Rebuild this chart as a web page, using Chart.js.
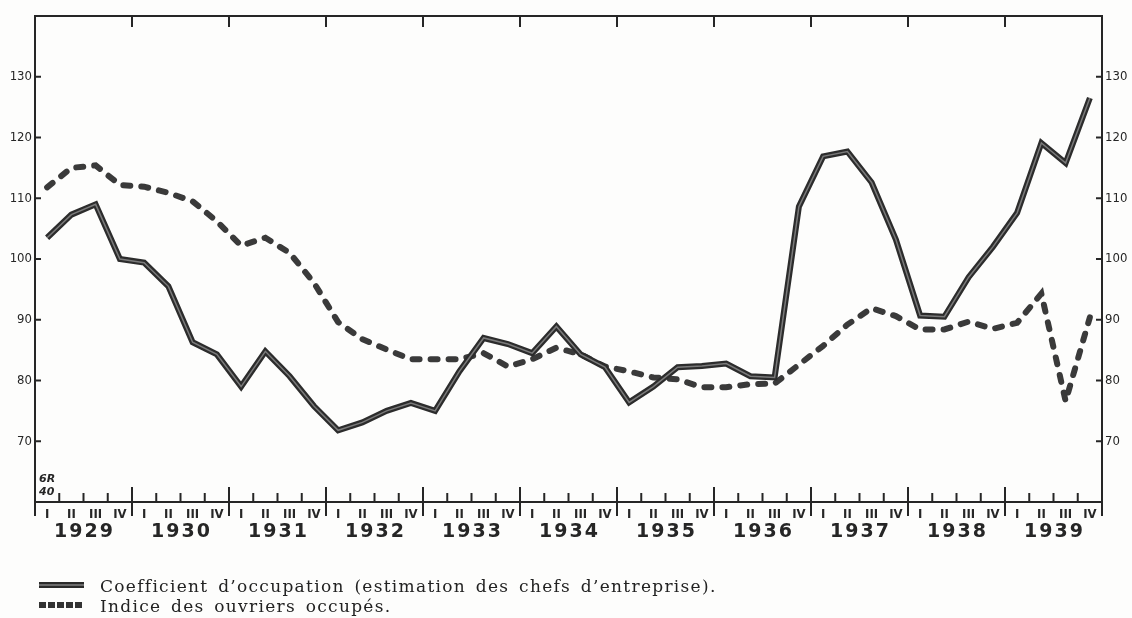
<!DOCTYPE html>
<html>
<head>
<meta charset="utf-8">
<script src="https://cdn.jsdelivr.net/npm/chart.js@4.4.1/dist/chart.umd.min.js"></script>
<style>
  html, body { margin: 0; padding: 0; background: #fff; }
  #wrap { position: relative; width: 1132px; height: 618px; background: #fdfdfc; }
  #chart { position: absolute; left: 0; top: 0; }
  .legend { position: absolute; left: 39px; font-family: "DejaVu Serif", serif; font-size: 17px; letter-spacing: 1.3px; word-spacing: 3px; color: #222; white-space: nowrap; }
  .legend .sw { display: inline-block; width: 45px; height: 6px; margin-right: 16px; vertical-align: 4px; }
  .sw.solid { background-image: linear-gradient(#2a2a2a 0 30%, #6a6a6a 30% 70%, #2a2a2a 70%); }
  .sw.dash { background: repeating-linear-gradient(90deg, #333 0 7px, transparent 7px 9px); }
</style>
</head>
<body>
<div id="wrap">
  <canvas id="chart" width="1132" height="618"></canvas>
  <div class="legend" style="top:576px"><span class="sw solid"></span>Coefficient d’occupation (estimation des chefs d’entreprise).</div>
  <div class="legend" style="top:596px"><span class="sw dash"></span>Indice des ouvriers occupés.</div>
</div>
<script>
const years = ['1929', '1930', '1931', '1932', '1933', '1934', '1935', '1936', '1937', '1938', '1939'];
const quarters = ['I', 'II', 'III', 'IV'];
const yTicks = [70, 80, 90, 100, 110, 120, 130];

// Coefficient d'occupation (estimation des chefs d'entreprise), one value per quarter
const coefficient = [
  103.5, 107.3, 109.0, 100.0,
  99.4, 95.5, 86.3, 84.3,
  79.0, 84.8, 80.7, 75.8,
  71.8, 73.1, 75.0, 76.3,
  75.0, 81.5, 87.0, 86.0,
  84.5, 88.9, 84.3, 82.2,
  76.4, 79.0, 82.2, 82.4,
  82.8, 80.7, 80.5, 108.6,
  116.9, 117.7, 112.6, 103.2,
  90.7, 90.5, 97.0, 102.0,
  107.6, 119.1, 115.8, 126.5
];

// Indice des ouvriers occupés
const ouvriers = [
  111.8, 115.0, 115.4, 112.2,
  111.9, 110.9, 109.5, 106.2,
  102.2, 103.5, 101.0, 96.1,
  89.6, 86.8, 85.1, 83.5,
  83.5, 83.5, 84.5, 82.3,
  83.5, 85.4, 84.3, 82.3,
  81.5, 80.5, 80.2, 78.9,
  78.9, 79.4, 79.5, 82.6,
  85.7, 89.2, 91.9, 90.6,
  88.4, 88.4, 89.7, 88.5,
  89.5, 94.3, 76.6, 90.4
];

const INK = '#262626';
const nQuarters = years.length * quarters.length;
const toPoints = arr => arr.map((v, i) => ({ x: i + 0.5, y: v }));

const axisDecor = {
  id: 'axisDecor',
  afterDraw(chart) {
    const { ctx, chartArea: a, scales: { x, y } } = chart;
    const line = (x1, y1, x2, y2) => { ctx.beginPath(); ctx.moveTo(x1, y1); ctx.lineTo(x2, y2); ctx.stroke(); };
    ctx.save();
    ctx.strokeStyle = INK;
    ctx.lineWidth = 2;

    // inward ticks on the value axes
    yTicks.forEach(v => {
      const py = y.getPixelForValue(v);
      line(a.left, py, a.left + 6, py);
      line(a.right - 6, py, a.right, py);
    });

    // quarter and year ticks
    for (let k = 0; k <= nQuarters; k++) {
      const px = x.getPixelForValue(k);
      if (k % 4 === 0) {
        line(px, a.bottom - 15, px, a.bottom + 14);
        if (k > 0 && k < nQuarters) line(px, a.top, px, a.top + 11);
      } else {
        line(px, a.bottom - 9, px, a.bottom);
      }
    }

    // quarter labels
    ctx.fillStyle = INK;
    ctx.textAlign = 'center';
    ctx.textBaseline = 'middle';
    ctx.font = 'bold 13px "DejaVu Sans Condensed"';
    for (let k = 0; k < nQuarters; k++) {
      ctx.fillText(quarters[k % 4], x.getPixelForValue(k + 0.5), a.bottom + 13);
    }

    // year labels
    ctx.font = 'bold 19px "DejaVu Sans"';
    ctx.letterSpacing = '2px';
    years.forEach((yr, i) => {
      ctx.fillText(yr, x.getPixelForValue(i * 4 + 2) + 1, a.bottom + 30);
    });
    ctx.letterSpacing = '0px';

    // small print mark
    ctx.textAlign = 'left';
    ctx.font = 'italic bold 11px "DejaVu Sans"';
    ctx.fillText('6R', a.left + 4, a.bottom - 23);
    ctx.fillText('40', a.left + 4, a.bottom - 10);
    ctx.restore();
  }
};

new Chart(document.getElementById('chart'), {
  type: 'line',
  data: {
    datasets: [
      {
        label: 'Coefficient d’occupation (estimation des chefs d’entreprise).',
        data: toPoints(coefficient),
        borderColor: '#7a7a7a',
        borderWidth: 1.5,
        pointRadius: 0,
        tension: 0,
        order: 0
      },
      {
        label: 'Coefficient d’occupation',
        data: toPoints(coefficient),
        borderColor: '#2c2c2c',
        borderWidth: 6,
        borderJoinStyle: 'miter',
        pointRadius: 0,
        tension: 0,
        order: 1
      },
      {
        label: 'Indice des ouvriers occupés.',
        data: toPoints(ouvriers),
        borderColor: '#3a3a3a',
        borderWidth: 6,
        borderDash: [7, 11],
        borderCapStyle: 'round',
        pointRadius: 0,
        tension: 0,
        order: 2
      }
    ]
  },
  options: {
    responsive: false,
    devicePixelRatio: 1,
    animation: false,
    layout: { padding: 0 },
    plugins: { legend: { display: false }, tooltip: { enabled: false } },
    scales: {
      x: {
        type: 'linear', position: 'bottom', min: 0, max: nQuarters,
        ticks: { display: false },
        grid: { display: false },
        border: { display: true, color: INK, width: 2 },
        afterFit: s => { s.height = 116; }
      },
      xTop: {
        type: 'linear', position: 'top', min: 0, max: nQuarters,
        ticks: { display: false },
        grid: { display: false },
        border: { display: true, color: INK, width: 2 },
        afterFit: s => { s.height = 16; }
      },
      y: {
        position: 'left', min: 60, max: 140,
        ticks: {
          stepSize: 10, padding: 3, color: INK,
          font: { family: 'DejaVu Sans Condensed', size: 13 },
          callback: v => (v === 60 || v === 140) ? '' : v
        },
        grid: { drawOnChartArea: false, drawTicks: false },
        border: { display: true, color: INK, width: 2 },
        afterFit: s => { s.width = 35; }
      },
      y2: {
        position: 'right', min: 60, max: 140,
        ticks: {
          stepSize: 10, padding: 3, color: INK,
          font: { family: 'DejaVu Sans Condensed', size: 13 },
          callback: v => (v === 60 || v === 140) ? '' : v
        },
        grid: { drawOnChartArea: false, drawTicks: false },
        border: { display: true, color: INK, width: 2 },
        afterFit: s => { s.width = 30; }
      }
    }
  },
  plugins: [axisDecor]
});
</script>
</body>
</html>
